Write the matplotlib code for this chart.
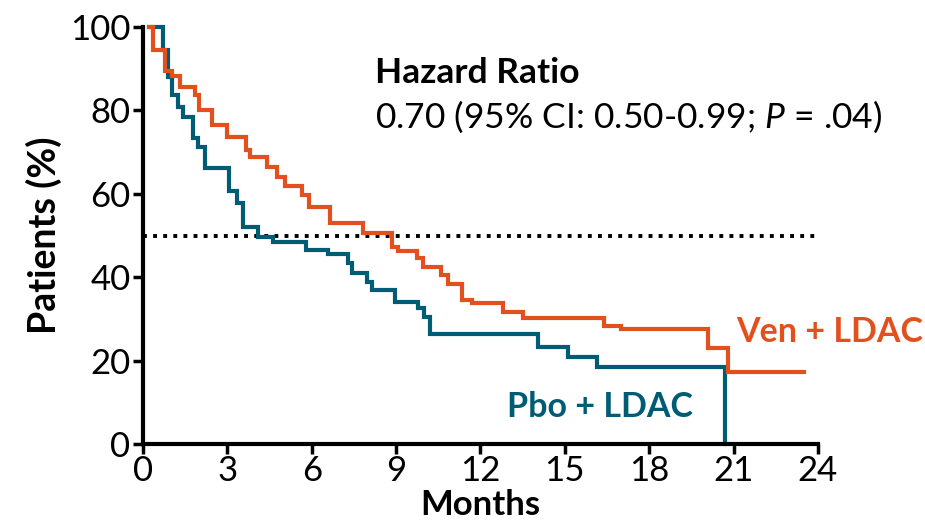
import matplotlib
matplotlib.use("Agg")
import matplotlib.pyplot as plt

# Kaplan-Meier steps (months, % patients)
ven_months = [0.2, 0.35, 0.78, 1.03, 1.32, 1.85, 2.0, 2.46, 3.0, 3.67, 3.8, 4.4,
              4.77, 5.05, 5.65, 5.9, 6.65, 7.83, 8.86, 9.07, 9.75, 9.96, 10.6,
              10.85, 11.35, 11.7, 12.8, 13.5, 16.4, 17.0, 20.1, 20.8, 23.5]
ven_pct = [100, 94.5, 89.5, 88.3, 85.6, 83.7, 80.0, 76.5, 73.6, 70.5, 68.8, 66.4,
           64.0, 62.0, 59.8, 56.8, 53.0, 50.6, 47.3, 46.3, 44.6, 42.4, 40.5,
           38.3, 34.5, 33.8, 31.7, 30.2, 28.3, 27.6, 23.0, 17.3, 17.3]

pbo_months = [0.2, 0.7, 0.89, 1.03, 1.25, 1.42, 1.78, 1.96, 2.21, 3.06, 3.34, 3.56,
              4.1, 4.63, 5.8, 6.58, 7.3, 7.44, 7.97, 8.15, 8.97, 9.79, 10.0,
              10.2, 14.06, 15.1, 16.15, 20.7, 20.7]
pbo_pct = [100, 94.5, 88.0, 83.7, 80.8, 78.4, 73.4, 71.2, 66.2, 60.8, 57.8, 52.0,
           49.6, 48.4, 46.6, 45.7, 43.4, 41.0, 38.9, 36.9, 34.1, 32.6, 30.5,
           26.3, 23.3, 20.9, 18.5, 0, 0]

x_ticks = [0, 3, 6, 9, 12, 15, 18, 21, 24]
y_ticks = [0, 20, 40, 60, 80, 100]
median_line = 50

ORANGE = "#E2501E"
BLUE = "#005B74"

plt.rcParams["font.family"] = ["Lato", "DejaVu Sans"]
plt.rcParams["mathtext.fontset"] = "custom"
plt.rcParams["mathtext.rm"] = "Lato"
plt.rcParams["mathtext.it"] = "Lato:italic"

fig = plt.figure(figsize=(9.25, 5.25), dpi=100)
ax = fig.add_axes([0.1546, 0.154, 0.7297, 0.7946])

ax.plot([0, 24], [median_line, median_line], color="black", lw=2.8,
        linestyle=(0, (1, 1.6)), dash_capstyle="butt", zorder=1)

ax.plot(ven_months, ven_pct, drawstyle="steps-post", color=ORANGE, lw=3,
        solid_joinstyle="miter", clip_on=False, zorder=3)
ax.plot(pbo_months, pbo_pct, drawstyle="steps-post", color=BLUE, lw=3,
        solid_joinstyle="miter", clip_on=False, zorder=2)

ax.set_xlim(0, 24)
ax.set_ylim(0, 100)
ax.set_xticks(x_ticks)
ax.set_yticks(y_ticks)
ax.tick_params(axis="both", labelsize=25, width=2.5, length=7, direction="out",
               pad=2)
ax.tick_params(axis="x", pad=1)

for side in ["top", "right"]:
    ax.spines[side].set_visible(False)
for side in ["left", "bottom"]:
    ax.spines[side].set_linewidth(3)

ax.set_xlabel("Months", fontsize=25, fontweight="bold", labelpad=1)
ax.set_ylabel("Patients (%)", fontsize=27, fontweight="bold", labelpad=6)

ax.text(8.25, 86.6, "Hazard Ratio", fontsize=25.5, fontweight="bold",
        va="baseline", ha="left")
ax.text(8.25, 75.8, "0.70 (95% CI: 0.50-0.99; $P$ = .04)", fontsize=25.5,
        va="baseline", ha="left")

ax.text(21.1, 24.5, "Ven + LDAC", fontsize=24.5, fontweight="bold", color=ORANGE,
        va="baseline", ha="left")
ax.text(12.95, 6.5, "Pbo + LDAC", fontsize=24.5, fontweight="bold", color=BLUE,
        va="baseline", ha="left")

fig.savefig("out.png", dpi=100)
